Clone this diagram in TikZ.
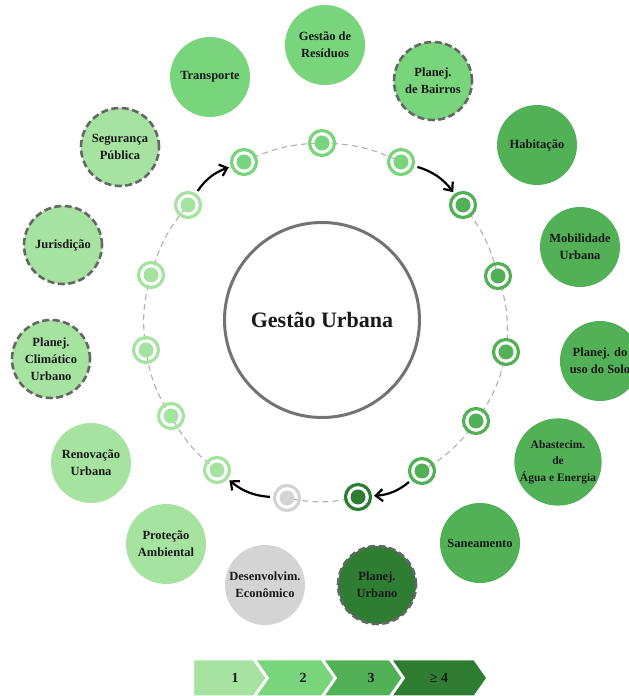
\documentclass[tikz,border=0pt]{standalone}
\usepackage{fontspec}
\setmainfont{Liberation Serif}
\usetikzlibrary{arrows.meta,shapes.symbols,backgrounds}
\definecolor{lvA}{HTML}{A6E3A1}
\definecolor{lvB}{HTML}{79D57C}
\definecolor{lvC}{HTML}{52B157}
\definecolor{lvD}{HTML}{2F7D33}
\definecolor{lvN}{HTML}{D4D4D4}
\definecolor{trackgray}{HTML}{B0B0B0}

\begin{document}
\begin{tikzpicture}[
  x=1pt, y=1pt,
  every node/.style={font=\bfseries\fontsize{12.5}{17}\selectfont, text=black!90},
  bub/.style={circle, fill=#1, minimum size=80pt, inner sep=0pt, align=center},
  bubd/.style={bub=#1, draw=black!60, line width=2.6pt, dash pattern=on 7pt off 3.5pt, minimum size=78pt},
  mk/.style={circle, draw=#1, line width=3.2pt, minimum size=25pt, inner sep=0pt,
    path picture={\fill[#1] (path picture bounding box.center) circle (7.5pt);}},
  track/.style={trackgray, line width=1.1pt, dash pattern=on 6pt off 4pt},
  arr/.style={-{Straight Barb[length=7pt, width=12pt]}, line width=2.2pt, shorten <=3pt, shorten >=2pt},
  lvl/.style={signal, signal to=east, signal pointer angle=110, fill=#1, draw=white, line width=3pt,
    minimum width=98pt, minimum height=38pt, inner sep=0pt, font=\bfseries\fontsize{14}{16}\selectfont}
]
  \useasboundingbox (0,0) rectangle (629,696);

  \node[circle, draw=black!55, line width=3pt, minimum size=195pt,
    font=\bfseries\fontsize{22}{26}\selectfont] (GU) at (322,376) {Gestão Urbana};

  % themes
  \node[bub=lvB] (GR) at (325,651) {Gestão de\\Resíduos};
  \node[bubd=lvB] (PB) at (433,615) {Planej.\\de Bairros};
  \node[bub=lvC] (HAB) at (537,551) {Habitação};
  \node[bub=lvC] (MU) at (580,449) {Mobilidade\\Urbana};
  \node[bub=lvC] (PS) at (600,335) {Planej. do\\uso do Solo};
  \node[bub=lvC, font=\bfseries\fontsize{11.5}{16.5}\selectfont] (AAE) at (558,234) {Abastecim.\\de\\Água e Energia};
  \node[bub=lvC] (SAN) at (480,153) {Saneamento};
  \node[bubd=lvD] (PU) at (377,111) {Planej.\\Urbano};
  \node[bub=lvN] (DE) at (265,111) {Desenvolvim.\\Econômico};
  \node[bub=lvA] (PA) at (166,152) {Proteção\\Ambiental};
  \node[bub=lvA] (RU) at (91,233) {Renovação\\Urbana};
  \node[bubd=lvA] (PCU) at (51,337) {Planej.\\Climático\\Urbano};
  \node[bubd=lvA] (JUR) at (63,451) {Jurisdição};
  \node[bubd=lvA] (SP) at (120,549) {Segurança\\Pública};
  \node[bub=lvB] (TR) at (210,619) {Transporte};

  % ring markers
  \node[mk=lvB] (mGR) at (322,553) {};
  \node[mk=lvB] (mPB) at (401,534) {};
  \node[mk=lvC] (mHAB) at (463,491) {};
  \node[mk=lvC] (mMU) at (498,420) {};
  \node[mk=lvC] (mPS) at (506,344) {};
  \node[mk=lvC] (mAAE) at (476,275) {};
  \node[mk=lvC] (mSAN) at (422,225) {};
  \node[mk=lvD] (mPU) at (358,199) {};
  \node[mk=lvN] (mDE) at (287,198) {};
  \node[mk=lvA] (mPA) at (217,226) {};
  \node[mk=lvA] (mRU) at (171,280) {};
  \node[mk=lvA] (mPCU) at (146,346) {};
  \node[mk=lvA] (mJUR) at (151,421) {};
  \node[mk=lvA] (mSP) at (188,491) {};
  \node[mk=lvB] (mTR) at (244,534) {};

  \begin{scope}[on background layer]
    \fill[white] (0,0) rectangle (629,696);
    \foreach \a/\b in {GR/PB, HAB/MU, MU/PS, PS/AAE, AAE/SAN, PU/DE, PA/RU, RU/PCU, PCU/JUR, JUR/SP, TR/GR}
      \draw[track] (m\a.center) to[bend left=12] (m\b.center);
  \end{scope}

  \draw[arr] (mSP) to[bend left=18] (mTR);
  \draw[arr] (mPB) to[bend left=18] (mHAB);
  \draw[arr] (mSAN) to[bend left=18] (mPU);
  \draw[arr] (mDE) to[bend left=18] (mPA);

  % legend
  \node[lvl=lvA] (L1) at (235,18) {1};
  \node[lvl=lvB, signal from=west] (L2) at (303,18) {2};
  \node[lvl=lvC, signal from=west] (L3) at (371,18) {3};
  \node[lvl=lvD, signal from=west] (L4) at (439,18) {≥ 4};
\end{tikzpicture}
\end{document}
